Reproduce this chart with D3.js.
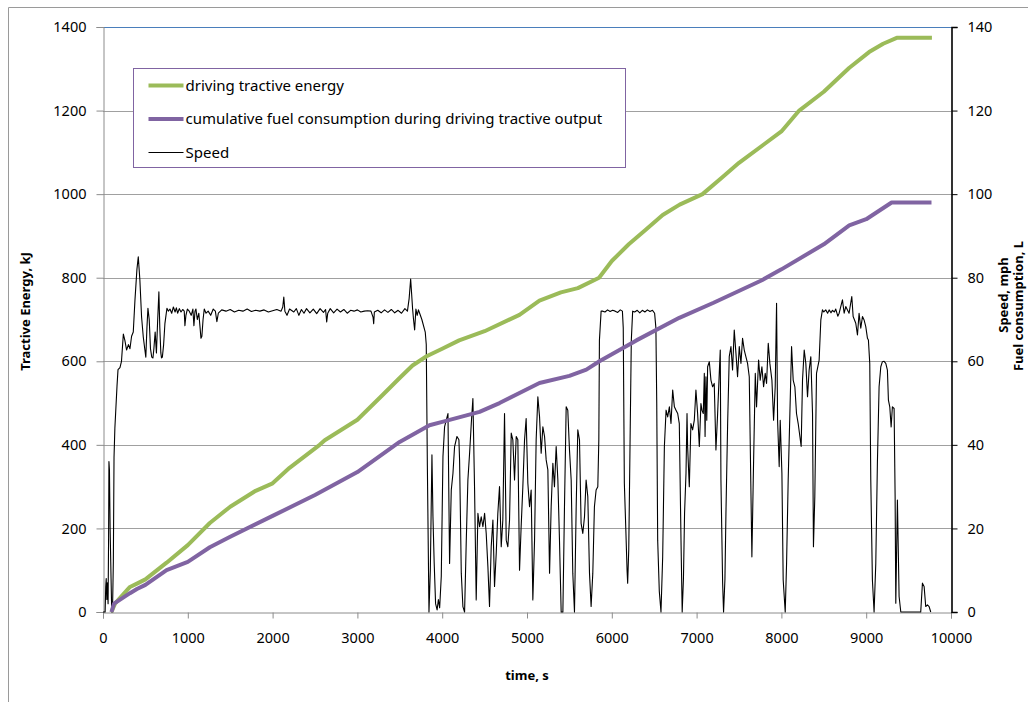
<!DOCTYPE html>
<html>
<head>
<meta charset="utf-8">
<script src="https://cdn.jsdelivr.net/npm/d3@7"></script>
<style>
  body { margin: 0; background: #fff; }
  svg text { font-family: "Noto Sans", "Open Sans", sans-serif; fill: #000; }
</style>
</head>
<body>
<div id="chart"></div>
<script>
// tick labels
const energyTicks = [0, 200, 400, 600, 800, 1000, 1200, 1400];
const rightTicks = [0, 20, 40, 60, 80, 100, 120, 140];
const timeTicks = [0, 1000, 2000, 3000, 4000, 5000, 6000, 7000, 8000, 9000, 10000];

const legendLabels = ['driving tractive energy', 'cumulative fuel consumption during driving tractive output', 'Speed'];

// cumulative tractive energy, [time s, kJ]
const energyData = [
  [100, 0], [141, 20], [318, 60], [400, 68], [500, 78], [750, 118], [1000, 160], [1260, 213],
  [1500, 252], [1800, 290], [2000, 308], [2200, 345], [2555, 400], [2615, 411], [3000, 460],
  [3300, 520], [3498, 560], [3650, 590], [3816, 612], [4000, 630], [4200, 650], [4500, 672],
  [4911, 711], [5147, 745], [5400, 765], [5600, 775], [5850, 800], [6000, 840], [6200, 880],
  [6400, 915], [6600, 950], [6800, 975], [7070, 1000], [7300, 1040], [7500, 1075], [7800, 1120],
  [8000, 1150], [8210, 1200], [8500, 1245], [8798, 1302], [9034, 1340], [9200, 1360],
  [9360, 1374], [9775, 1374]
];

// cumulative fuel, [time s, L] on the right axis
const fuelData = [
  [100, 0], [130, 2], [318, 4.5], [400, 5.5], [500, 6.5], [750, 10], [1000, 12], [1260, 15.5],
  [1500, 18], [2000, 23], [2500, 28], [3000, 33.5], [3498, 40.7], [3850, 44.7], [4000, 45.5],
  [4440, 47.9], [4676, 50], [5147, 54.8], [5500, 56.5], [5700, 58], [5854, 60], [6290, 65],
  [6796, 70.4], [7200, 74], [7770, 79.4], [8000, 82], [8500, 88], [8800, 92.5], [9000, 94],
  [9300, 98], [9770, 98]
];

// vehicle speed, [time s, mph] on the right axis
const speedData = [
  [0, 0], [25, 0], [32, 6], [38, 8], [45, 3], [52, 7], [60, 2], [66, 18], [70, 36], [76, 34],
  [84, 20], [95, 8], [103, 0], [112, 0], [122, 12], [130, 37], [140, 44], [150, 48], [165, 54],
  [177, 58], [200, 58.5], [218, 60], [240, 66.5], [258, 65], [278, 62.7], [300, 64], [318, 63],
  [337, 66], [357, 67], [377, 74.7], [400, 82], [416, 85], [435, 79.4], [455, 70.6], [475, 65.8],
  [494, 62.7], [505, 61], [518, 68], [530, 72.7], [545, 70], [560, 63], [575, 61], [589, 60.8],
  [600, 63], [615, 67], [630, 62], [645, 70], [659, 76.6], [670, 68], [682, 62], [690, 60.8],
  [700, 61], [715, 64], [730, 69], [754, 72.7], [770, 72], [790, 72.5], [810, 71.5], [830, 73],
  [850, 71.8], [865, 72.8], [880, 71.5], [900, 72.6], [920, 71.8], [940, 72.4], [958, 72],
  [966, 68.5], [978, 71], [995, 72.5], [1017, 72], [1040, 71], [1060, 72.5], [1072, 68.5],
  [1085, 72], [1096, 72.5], [1112, 70], [1130, 71.5], [1145, 68], [1155, 65.5], [1166, 66],
  [1180, 70], [1194, 72.5], [1215, 71.5], [1240, 72], [1270, 71], [1300, 72.5], [1325, 72],
  [1343, 69.5], [1360, 71.5], [1400, 72.3], [1450, 72], [1500, 72.4], [1550, 71.8], [1600, 72.2],
  [1650, 72], [1700, 72.5], [1750, 71.9], [1800, 72.2], [1850, 72], [1900, 72.3], [1950, 71.8],
  [2000, 72.1], [2050, 72.4], [2100, 72], [2120, 73], [2132, 75.4], [2145, 72], [2170, 71],
  [2200, 72.5], [2250, 71.8], [2280, 72.6], [2310, 71], [2340, 72.4], [2370, 71.5], [2400, 72.6],
  [2440, 71.6], [2480, 72.5], [2520, 71.4], [2560, 72.6], [2600, 71.7], [2625, 72.4], [2638, 69.4],
  [2650, 71.5], [2680, 72.6], [2720, 71.6], [2760, 72.5], [2800, 71.8], [2840, 72.4], [2880, 71.5],
  [2920, 72.2], [2960, 72], [3000, 72.3], [3040, 71.8], [3080, 72], [3120, 72.1], [3160, 72],
  [3185, 70.5], [3192, 69], [3200, 71.8], [3240, 72.2], [3280, 71.6], [3320, 72.3], [3360, 71.7],
  [3400, 72.4], [3440, 71.6], [3480, 72.2], [3520, 71.5], [3560, 72.6], [3590, 72], [3610, 75],
  [3628, 79.7], [3640, 76], [3651, 72.5], [3662, 70], [3675, 67.5], [3690, 72.5], [3705, 71],
  [3720, 72.3], [3734, 71.5], [3760, 70], [3800, 67], [3812, 64], [3825, 35], [3844, 0],
  [3860, 10], [3879, 37.6], [3891, 22.8], [3905, 12], [3922, 2], [3940, 0.5], [3955, 3], [3970, 1],
  [3989, 8.5], [4009, 37.2], [4028, 44.3], [4048, 45.9], [4068, 47.5], [4087, 11.6], [4107, 29.2],
  [4127, 33.2], [4146, 39.6], [4174, 42], [4197, 41.2], [4205, 36.4], [4225, 9.3], [4244, 1.3],
  [4264, 0], [4284, 17.2], [4303, 31.6], [4323, 38], [4343, 45.1], [4362, 51.1], [4382, 29.2],
  [4401, 2.9], [4421, 23.6], [4441, 20.4], [4460, 22.8], [4480, 20.4], [4500, 23.6], [4519, 18.8],
  [4539, 10.8], [4558, 1.3], [4578, 15.6], [4598, 22], [4617, 6.1], [4637, 14], [4656, 23.6],
  [4676, 30], [4696, 15.6], [4715, 22], [4735, 47.5], [4755, 17.2], [4774, 15.6], [4794, 22],
  [4814, 42.8], [4833, 41.2], [4853, 31.6], [4873, 42], [4892, 41.2], [4912, 10], [4931, 20.4],
  [4951, 30], [4971, 41.2], [4990, 46.3], [5010, 30.8], [5030, 25.2], [5049, 29.2], [5069, 2.9],
  [5089, 17.2], [5108, 41.2], [5128, 51.5], [5148, 46.7], [5167, 38], [5187, 44.3], [5207, 42],
  [5226, 36.4], [5246, 34], [5266, 9.3], [5285, 25.2], [5305, 35.6], [5324, 30], [5344, 39.6],
  [5364, 31.6], [5383, 17.2], [5403, 0], [5423, 0], [5442, 25.2], [5462, 49.1], [5481, 48.3],
  [5501, 38.8], [5521, 31.6], [5540, 9.3], [5560, 0], [5580, 25.2], [5599, 43.6], [5619, 41.2],
  [5638, 21.2], [5658, 18.8], [5678, 22.8], [5697, 31.6], [5717, 27.6], [5737, 9.3], [5756, 1.3],
  [5776, 9.3], [5795, 25.2], [5815, 29.2], [5835, 30], [5847, 41.2], [5854, 65], [5874, 72],
  [5890, 72], [5920, 71.8], [5950, 72.3], [5980, 71.9], [6010, 72.2], [6040, 72], [6070, 71.7],
  [6100, 72.3], [6125, 72], [6135, 68], [6148, 30.8], [6165, 20], [6180, 10], [6187, 6.9],
  [6200, 15], [6215, 40], [6230, 65], [6246, 72], [6270, 71.8], [6300, 72.2], [6330, 71.6],
  [6360, 72.2], [6390, 71.8], [6420, 72.3], [6450, 71.9], [6480, 72.2], [6505, 71.5], [6520, 68],
  [6530, 50], [6541, 17.2], [6560, 5], [6580, 0], [6600, 13.2], [6620, 39.6], [6640, 48.3],
  [6659, 46.7], [6679, 49.1], [6698, 45.1], [6718, 53.1], [6738, 49.1], [6757, 48.3], [6777, 47.5],
  [6796, 45.1], [6816, 17.2], [6830, 0], [6845, 8], [6858, 23.6], [6875, 33.2], [6887, 47.5],
  [6894, 39.6], [6914, 30], [6933, 45.1], [6953, 43.6], [6973, 45.9], [6992, 53.1], [7012, 47.5],
  [7032, 39.6], [7051, 49.9], [7063, 48.3], [7079, 47.5], [7091, 57.1], [7100, 42], [7110, 56.3],
  [7120, 45.9], [7130, 58.7], [7150, 59.9], [7169, 55.5], [7189, 53.9], [7208, 54.7], [7228, 38.8],
  [7248, 47.5], [7267, 57.1], [7279, 62.7], [7287, 31.6], [7307, 6.9], [7318, 0], [7334, 7.7],
  [7346, 23.6], [7366, 45.1], [7385, 61.1], [7405, 63.5], [7424, 57.9], [7444, 67.5], [7464, 61.9],
  [7483, 56.3], [7503, 63.5], [7523, 59.5], [7542, 65.5], [7562, 62.7], [7581, 61.1], [7601, 59.5],
  [7621, 56.3], [7633, 39.6], [7652, 13.2], [7668, 31.6], [7692, 57.1], [7707, 49.1], [7731, 60.3],
  [7750, 55.5], [7770, 58.7], [7790, 53.9], [7809, 57.1], [7825, 54.7], [7845, 64.3], [7864, 59.5],
  [7888, 55.5], [7908, 45.9], [7927, 53.9], [7943, 73.9], [7955, 45.9], [7974, 34.8], [7986, 45.9],
  [8006, 33.2], [8021, 7.7], [8045, 0], [8061, 11.6], [8080, 31.6], [8100, 47.5], [8120, 63.5],
  [8139, 55.5], [8159, 53.9], [8178, 47.5], [8198, 45.1], [8218, 42], [8233, 39.6], [8249, 55.5],
  [8269, 62.7], [8288, 59.5], [8308, 51.5], [8327, 57.9], [8347, 61.1], [8367, 47.5], [8378, 15.6],
  [8394, 27.6], [8414, 57.1], [8445, 60.3], [8465, 69.9], [8484, 72.3], [8500, 71.8], [8523, 72.3],
  [8545, 71.5], [8563, 72.3], [8585, 71.6], [8602, 72.2], [8625, 71.8], [8641, 72.5], [8665, 70.8],
  [8681, 71.5], [8720, 74.7], [8740, 71.5], [8759, 73.1], [8779, 72.3], [8798, 71.5], [8830, 75.5],
  [8846, 70.7], [8877, 69.1], [8897, 66.3], [8916, 71.5], [8936, 67.9], [8956, 70.7], [8975, 69.9],
  [8995, 68.3], [9015, 65.5], [9026, 65.1], [9042, 59.5], [9054, 31.6], [9073, 7.7], [9093, 0],
  [9113, 11.6], [9132, 35.6], [9152, 53.9], [9172, 58.7], [9191, 59.9], [9211, 60], [9231, 59.5],
  [9250, 57.9], [9262, 50.7], [9278, 49.1], [9294, 44.3], [9309, 49.1], [9329, 48.7], [9341, 27.6],
  [9349, 2.1], [9368, 26.8], [9388, 3.7], [9408, 0], [9643, 0], [9663, 6.9], [9683, 6.1],
  [9702, 1.3], [9722, 1.7], [9742, 1.3], [9761, 0]
];

const width = 1028;
const height = 702;
const plot = { left: 103, right: 951, top: 27, bottom: 612 };

const x = d3.scaleLinear().domain([0, 10000]).range([plot.left, plot.right]);
const yLeft = d3.scaleLinear().domain([0, 1400]).range([plot.bottom, plot.top]);
const yRight = d3.scaleLinear().domain([0, 140]).range([plot.bottom, plot.top]);

const svg = d3.select('#chart').append('svg')
  .attr('width', width)
  .attr('height', height);

// outer chart frame (right and bottom edges are cut off)
svg.append('path')
  .attr('d', `M8.5,${height} V7.5 H${width}`)
  .attr('fill', 'none')
  .attr('stroke', '#9a9a9a')
  .attr('stroke-width', 1);

// horizontal gridlines
svg.append('g')
  .selectAll('line')
  .data(energyTicks.slice(1))
  .enter()
  .append('line')
  .attr('x1', plot.left)
  .attr('x2', plot.right)
  .attr('y1', d => Math.round(yLeft(d)) + 0.5)
  .attr('y2', d => Math.round(yLeft(d)) + 0.5)
  .attr('stroke', d => (d === 1400 ? '#4a7ebb' : '#a0a0a0'))
  .attr('stroke-width', 1);

// left axis
const leftAxis = svg.append('g')
  .attr('transform', `translate(${plot.left + 0.5},0)`)
  .call(d3.axisLeft(yLeft).tickValues(energyTicks).tickFormat(d3.format('d'))
    .tickSizeOuter(0).tickSize(7).tickPadding(10));
leftAxis.select('.domain').attr('stroke', '#8c8c8c');
leftAxis.selectAll('.tick line').attr('stroke', '#8c8c8c');
leftAxis.selectAll('text').attr('font-size', 14.5).attr('font-family', null);

// bottom axis
const bottomAxis = svg.append('g')
  .attr('transform', `translate(0,${plot.bottom + 0.5})`)
  .call(d3.axisBottom(x).tickValues(timeTicks).tickFormat(d3.format('d'))
    .tickSizeOuter(0).tickSize(6).tickPadding(14));
bottomAxis.select('.domain').attr('stroke', '#8c8c8c');
bottomAxis.selectAll('.tick line').attr('stroke', '#8c8c8c');
bottomAxis.selectAll('text').attr('font-size', 14.5).attr('font-family', null);

// right axis
const rightAxis = svg.append('g')
  .attr('transform', `translate(${plot.right + 0.5},0)`)
  .call(d3.axisRight(yRight).tickValues(rightTicks).tickSizeOuter(0).tickSize(6).tickPadding(10));
rightAxis.select('.domain').attr('stroke', '#000').attr('stroke-width', 1.6);
rightAxis.selectAll('.tick line').attr('stroke', '#000');
rightAxis.selectAll('text').attr('font-size', 14.5).attr('font-family', null);

// series
const energyLine = d3.line().x(d => x(d[0])).y(d => yLeft(d[1]));
const rightLine = d3.line().x(d => x(d[0])).y(d => yRight(d[1]));

svg.append('path')
  .datum(speedData)
  .attr('d', rightLine)
  .attr('fill', 'none')
  .attr('stroke', '#000')
  .attr('stroke-width', 1.1)
  .attr('stroke-linejoin', 'round');

svg.append('path')
  .datum(energyData)
  .attr('d', energyLine)
  .attr('fill', 'none')
  .attr('stroke', '#9bbb59')
  .attr('stroke-width', 4)
  .attr('stroke-linejoin', 'round');

svg.append('path')
  .datum(fuelData)
  .attr('d', rightLine)
  .attr('fill', 'none')
  .attr('stroke', '#8064a2')
  .attr('stroke-width', 4)
  .attr('stroke-linejoin', 'round');

// axis titles
svg.append('text')
  .attr('transform', `translate(30,${(plot.top + plot.bottom) / 2 - 8}) rotate(-90)`)
  .attr('text-anchor', 'middle')
  .attr('font-size', 13)
  .attr('font-weight', 'bold')
  .text('Tractive Energy, kJ');

svg.append('text')
  .attr('transform', 'translate(1008,295) rotate(-90)')
  .attr('text-anchor', 'middle')
  .attr('font-size', 13)
  .attr('font-weight', 'bold')
  .text('Speed, mph');

svg.append('text')
  .attr('transform', 'translate(1023,306) rotate(-90)')
  .attr('text-anchor', 'middle')
  .attr('font-size', 13)
  .attr('font-weight', 'bold')
  .text('Fuel consumption, L');

svg.append('text')
  .attr('x', 527)
  .attr('y', 680)
  .attr('text-anchor', 'middle')
  .attr('font-size', 13)
  .attr('font-weight', 'bold')
  .text('time, s');

// legend
const legend = svg.append('g').attr('transform', 'translate(133.5,68.5)');
legend.append('rect')
  .attr('width', 492)
  .attr('height', 99)
  .attr('fill', '#fff')
  .attr('stroke', '#8064a2')
  .attr('stroke-width', 1);

const legendColors = ['#9bbb59', '#8064a2', '#000'];
const legendWidths = [4, 4, 1.1];
const items = legend.selectAll('.legend-item')
  .data(legendLabels)
  .enter()
  .append('g')
  .attr('class', 'legend-item')
  .attr('transform', (d, i) => `translate(0,${17 + i * 33.5})`);

items.append('line')
  .attr('x1', 15)
  .attr('x2', 50)
  .attr('stroke', (d, i) => legendColors[i])
  .attr('stroke-width', (d, i) => legendWidths[i]);

items.append('text')
  .attr('x', 52)
  .attr('dy', '0.35em')
  .attr('font-size', 15)
  .text(d => d);
</script>
</body>
</html>
